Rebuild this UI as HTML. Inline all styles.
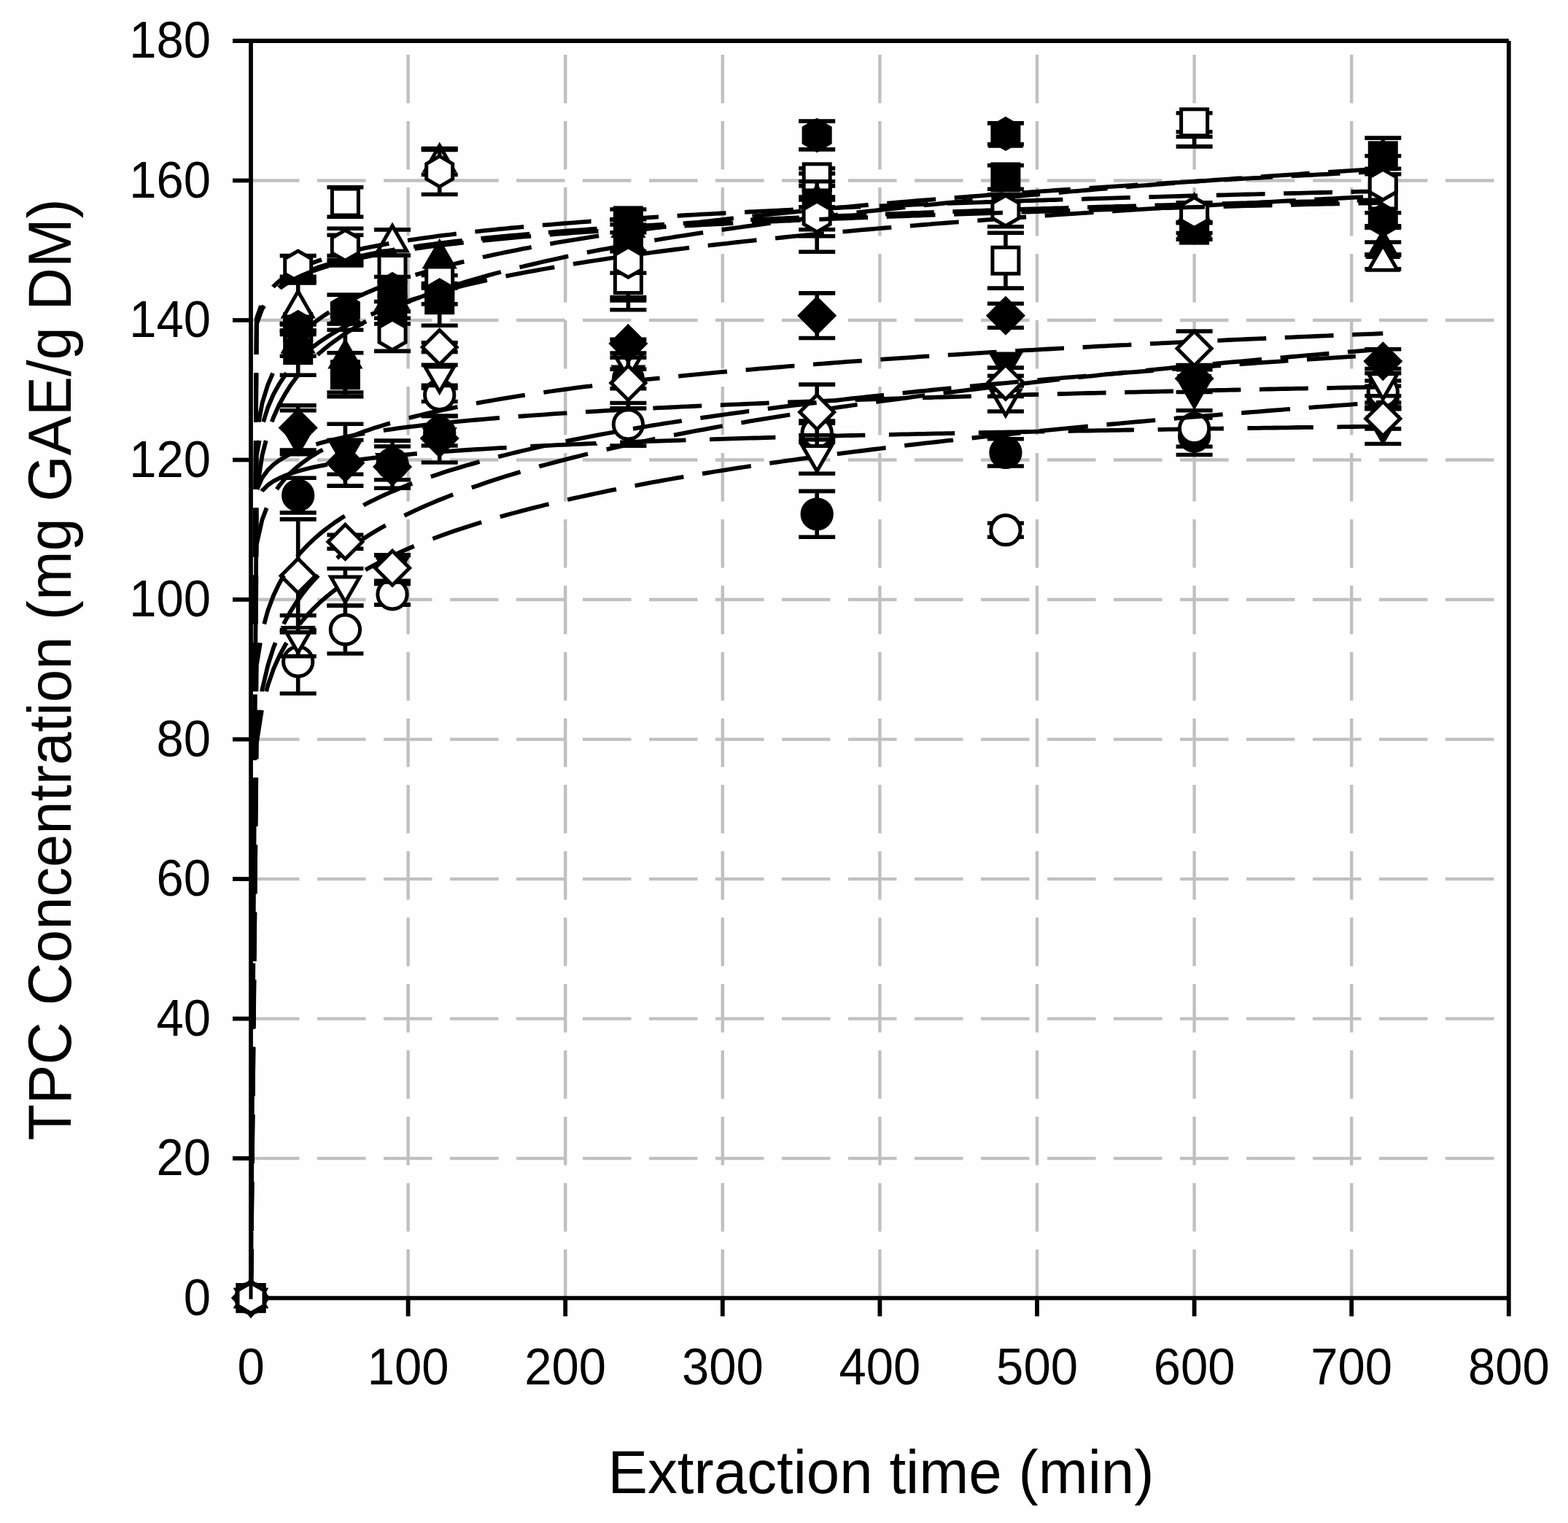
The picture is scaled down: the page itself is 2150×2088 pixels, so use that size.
<!DOCTYPE html>
<html lang="en"><head><meta charset="utf-8"><title>TPC Concentration vs Extraction time</title>
<style>html,body{margin:0;padding:0;background:#fefefe;}body{width:2150px;height:2088px;overflow:hidden;}svg{display:block;}</style>
</head><body>
<svg xmlns="http://www.w3.org/2000/svg" width="2150" height="2088" viewBox="0 0 2150 2088">
<rect width="2150" height="2088" fill="#fefefe"/>
<g stroke="#c0c0c0" stroke-width="4.4" fill="none" stroke-dasharray="66.5 24.5">
<line x1="344" y1="1588.1" x2="2068.8" y2="1588.1"/>
<line x1="344" y1="1396.6" x2="2068.8" y2="1396.6"/>
<line x1="344" y1="1205.1" x2="2068.8" y2="1205.1"/>
<line x1="344" y1="1013.6" x2="2068.8" y2="1013.6"/>
<line x1="344" y1="822" x2="2068.8" y2="822"/>
<line x1="344" y1="630.5" x2="2068.8" y2="630.5"/>
<line x1="344" y1="439" x2="2068.8" y2="439"/>
<line x1="344" y1="247.5" x2="2068.8" y2="247.5"/>
<line x1="559.6" y1="1779.6" x2="559.6" y2="56"/>
<line x1="775.2" y1="1779.6" x2="775.2" y2="56"/>
<line x1="990.8" y1="1779.6" x2="990.8" y2="56"/>
<line x1="1206.4" y1="1779.6" x2="1206.4" y2="56"/>
<line x1="1422" y1="1779.6" x2="1422" y2="56"/>
<line x1="1637.6" y1="1779.6" x2="1637.6" y2="56"/>
<line x1="1853.2" y1="1779.6" x2="1853.2" y2="56"/>
</g>
<g stroke="#000" stroke-width="5.8" stroke-linejoin="miter" stroke-miterlimit="10" fill="none">
<g stroke-width="5.0">
<g stroke-width="5.6"><path d="M408.7 655.3V702.9M383.7 655.3H433.7M383.7 702.9H433.7"/><path d="M602.7 570.4V611M577.7 570.4H627.7M577.7 611H627.7"/><path d="M861.4 506.1V532.7M836.4 506.1H886.4M836.4 532.7H886.4"/><path d="M1120.2 673.4V736.2M1095.2 673.4H1145.2M1095.2 736.2H1145.2"/><path d="M1378.9 601.8V639M1353.9 601.8H1403.9M1353.9 639H1403.9"/><path d="M1637.6 573V623.5M1612.6 573H1662.6M1612.6 623.5H1662.6"/><path d="M1896.3 529.2V560.8M1871.3 529.2H1921.3M1871.3 560.8H1921.3"/></g>
<circle cx="408.7" cy="679.1" r="20.15" fill="#000"/>
<circle cx="538" cy="636" r="20.15" fill="#000"/>
<circle cx="602.7" cy="593.4" r="20.15" fill="#000"/>
<circle cx="861.4" cy="519.4" r="20.15" fill="#000"/>
<circle cx="1120.2" cy="704.8" r="20.15" fill="#000"/>
<circle cx="1378.9" cy="620.4" r="20.15" fill="#000"/>
<circle cx="1637.6" cy="598" r="20.15" fill="#000"/>
<circle cx="1896.3" cy="545" r="20.15" fill="#000"/>
<g stroke-width="5.8"><path d="M344.0 1779.6L344.6 1689.3M344.9 1656.7L345.5 1566.4M345.7 1533.8L346.4 1443.5M346.6 1410.9L347.3 1320.6M347.5 1288.0L348.1 1197.7M348.4 1165.1L349.0 1074.8M349.2 1042.2L349.9 951.9M350.1 919.3L350.7 829.0M351.0 796.4L351.6 706.1M358.9 673.5L359.5 672.6L367.3 665.1L375.0 659.7L382.8 655.6L390.6 652.2L398.3 649.3L406.1 646.8L413.9 644.5L421.6 642.5L429.4 640.7L437.1 639.1L444.9 637.6L448.9 636.9M481.5 631.7L483.7 631.4L491.5 630.3L499.2 629.4L507.0 628.4L514.8 627.5L522.5 626.7L530.3 625.9L538.0 625.1L545.8 624.3L553.6 623.6L561.3 622.9L569.1 622.2L571.8 622.0M604.4 619.4L607.9 619.2L615.7 618.6L623.4 618.1L631.2 617.5L638.9 617.0L646.7 616.5L654.5 616.0L662.2 615.6L670.0 615.1L677.7 614.6L685.5 614.2L693.3 613.8L694.7 613.7M727.3 612.0L732.1 611.7L739.8 611.3L747.6 611.0L755.4 610.6L763.1 610.2L770.9 609.9L778.6 609.5L786.4 609.2L794.2 608.8L801.9 608.5L809.7 608.2L817.5 607.9L817.6 607.8M850.2 606.5L856.3 606.3L864.0 606.0L871.8 605.7L879.6 605.4L887.3 605.2L895.1 604.9L902.8 604.6L910.6 604.3L918.4 604.1L926.1 603.8L933.9 603.6L940.5 603.3M973.1 602.3L980.5 602.1L988.2 601.8L996.0 601.6L1003.7 601.4L1011.5 601.1L1019.3 600.9L1027.0 600.7L1034.8 600.5L1042.5 600.3L1050.3 600.0L1058.1 599.8L1063.4 599.7M1096.0 598.8L1096.9 598.8L1104.6 598.6L1112.4 598.4L1120.2 598.2L1127.9 598.0L1135.7 597.8L1143.4 597.6L1151.2 597.4L1159.0 597.2L1166.7 597.0L1174.5 596.9L1182.3 596.7L1186.3 596.6M1218.9 595.8L1221.1 595.8L1228.8 595.6L1236.6 595.4L1244.3 595.3L1252.1 595.1L1259.9 594.9L1267.6 594.8L1275.4 594.6L1283.2 594.4L1290.9 594.3L1298.7 594.1L1306.4 594.0L1309.2 593.9M1341.8 593.2L1345.2 593.2L1353.0 593.0L1360.8 592.9L1368.5 592.7L1376.3 592.6L1384.1 592.4L1391.8 592.3L1399.6 592.1L1407.3 592.0L1415.1 591.8L1422.9 591.7L1430.6 591.6L1432.1 591.5M1464.7 591.0L1469.4 590.9L1477.2 590.7L1485.0 590.6L1492.7 590.5L1500.5 590.3L1508.2 590.2L1516.0 590.1L1523.8 589.9L1531.5 589.8L1539.3 589.7L1547.0 589.5L1554.8 589.4L1555.0 589.4M1587.6 588.9L1593.6 588.8L1601.4 588.7L1609.1 588.6L1616.9 588.4L1624.7 588.3L1632.4 588.2L1640.2 588.1L1647.9 588.0L1655.7 587.8L1663.5 587.7L1671.2 587.6L1677.9 587.5M1710.5 587.0L1717.8 586.9L1725.6 586.8L1733.3 586.7L1741.1 586.6L1748.8 586.5L1756.6 586.4L1764.4 586.3L1772.1 586.2L1779.9 586.0L1787.7 585.9L1795.4 585.8L1800.8 585.8M1833.4 585.3L1834.2 585.3L1842.0 585.2L1849.8 585.1L1857.5 585.0L1865.3 584.9L1873.0 584.8L1880.8 584.7L1888.6 584.6L1896.3 584.5"/></g>
</g>
<g stroke-width="5.0">
<g stroke-width="5.6"><path d="M408.7 863.3V950.7M383.7 863.3H433.7M383.7 950.7H433.7"/><path d="M473.4 830.4V896M448.4 830.4H498.4M448.4 896H498.4"/><path d="M538 800.5V829.1M513 800.5H563M513 829.1H563"/><path d="M602.7 532.1V550.5M577.7 532.1H627.7M577.7 550.5H627.7"/><path d="M861.4 552.5V611.1M836.4 552.5H886.4M836.4 611.1H886.4"/><path d="M1120.2 580.3V606.3M1095.2 580.3H1145.2M1095.2 606.3H1145.2"/><path d="M1378.9 717.2V736.2M1353.9 717.2H1403.9M1353.9 736.2H1403.9"/><path d="M1637.6 562.7V612.3M1612.6 562.7H1662.6M1612.6 612.3H1662.6"/><path d="M1896.3 522V552M1871.3 522H1921.3M1871.3 552H1921.3"/><path d="M1095.2 577H1145.2"/></g>
<circle cx="408.7" cy="907" r="20.15" fill="#fefefe"/>
<circle cx="473.4" cy="863.2" r="20.15" fill="#fefefe"/>
<circle cx="538" cy="814.8" r="20.15" fill="#fefefe"/>
<circle cx="602.7" cy="541.3" r="20.15" fill="#fefefe"/>
<circle cx="861.4" cy="581.8" r="20.15" fill="#fefefe"/>
<circle cx="1120.2" cy="593.3" r="20.15" fill="#fefefe"/>
<circle cx="1378.9" cy="726.7" r="20.15" fill="#fefefe"/>
<circle cx="1637.6" cy="587.5" r="20.15" fill="#fefefe"/>
<circle cx="1896.3" cy="537" r="20.15" fill="#fefefe"/>
<g stroke-width="5.8"><path d="M344.0 1779.6L344.7 1712.8M344.9 1687.2L345.6 1620.4M345.9 1594.8L346.6 1528.0M346.8 1502.4L347.5 1435.6M347.8 1410.0L348.5 1343.2M348.7 1317.6L349.4 1250.8M349.7 1225.2L350.3 1158.4M350.6 1132.8L351.3 1066.0M351.5 1040.4L351.8 1019.0L358.9 973.6M365.1 948.0L367.3 939.6L375.0 917.4L382.8 899.8L390.6 885.2L393.0 881.2M410.8 855.6L413.9 851.8L421.6 842.9L429.4 834.8L437.1 827.3L444.9 820.4L452.7 814.0L460.4 807.9L468.2 802.2L475.4 797.3M501.0 781.3L507.0 777.9L514.8 773.7L522.5 769.6L530.3 765.7L538.0 762.0L545.8 758.4L553.6 754.9L561.3 751.5L567.8 748.8M593.4 738.6L600.1 736.1L607.9 733.3L615.7 730.5L623.4 727.8L631.2 725.2L638.9 722.7L646.7 720.2L654.5 717.8L660.2 716.0M685.8 708.5L693.3 706.4L701.0 704.3L708.8 702.2L716.6 700.1L724.3 698.1L732.1 696.1L739.8 694.2L747.6 692.3L752.6 691.1M778.2 685.1L778.6 685.0L786.4 683.2L794.2 681.5L801.9 679.8L809.7 678.1L817.5 676.5L825.2 674.8L833.0 673.2L840.7 671.7L845.0 670.8M870.6 665.8L871.8 665.6L879.6 664.1L887.3 662.6L895.1 661.2L902.8 659.8L910.6 658.4L918.4 657.0L926.1 655.7L933.9 654.3L937.4 653.7M963.0 649.4L964.9 649.1L972.7 647.8L980.5 646.5L988.2 645.3L996.0 644.1L1003.7 642.9L1011.5 641.7L1019.3 640.5L1027.0 639.3L1029.8 638.9M1055.4 635.1L1058.1 634.7L1065.8 633.6L1073.6 632.5L1081.4 631.4L1089.1 630.3L1096.9 629.2L1104.6 628.1L1112.4 627.1L1120.2 626.0L1122.2 625.8M1147.8 622.4L1151.2 621.9L1159.0 620.9L1166.7 619.9L1174.5 618.9L1182.3 618.0L1190.0 617.0L1197.8 616.0L1205.5 615.1L1213.3 614.1L1214.6 614.0M1240.2 610.9L1244.3 610.4L1252.1 609.5L1259.9 608.6L1267.6 607.7L1275.4 606.8L1283.2 606.0L1290.9 605.1L1298.7 604.2L1306.4 603.4L1307.0 603.3M1332.6 600.5L1337.5 600.0L1345.2 599.1L1353.0 598.3L1360.8 597.5L1368.5 596.7L1376.3 595.9L1384.1 595.1L1391.8 594.3L1399.4 593.5M1425.0 590.9L1430.6 590.4L1438.4 589.6L1446.1 588.8L1453.9 588.1L1461.7 587.3L1469.4 586.6L1477.2 585.9L1485.0 585.1L1491.8 584.5M1517.4 582.1L1523.8 581.5L1531.5 580.8L1539.3 580.1L1547.0 579.4L1554.8 578.7L1562.6 578.0L1570.3 577.3L1578.1 576.6L1584.2 576.1M1609.8 573.8L1616.9 573.2L1624.7 572.6L1632.4 571.9L1640.2 571.3L1647.9 570.6L1655.7 570.0L1663.5 569.3L1671.2 568.7L1676.6 568.2M1702.2 566.1L1702.3 566.1L1710.0 565.5L1717.8 564.9L1725.6 564.3L1733.3 563.6L1741.1 563.0L1748.8 562.4L1756.6 561.8L1764.4 561.2L1769.0 560.9M1794.6 558.9L1795.4 558.8L1803.2 558.2L1810.9 557.7L1818.7 557.1L1826.5 556.5L1834.2 555.9L1842.0 555.3L1849.8 554.8L1857.5 554.2L1861.4 553.9M1887.0 552.1L1888.6 551.9L1896.3 551.4"/></g>
</g>
<g stroke-width="5.0">
<g stroke-width="5.6"><path d="M408.7 562.8V622.6M383.7 562.8H433.7M383.7 622.6H433.7"/><path d="M473.4 581.2V650.2M448.4 581.2H498.4M448.4 650.2H498.4"/><path d="M538 612V657.8M513 612H563M513 657.8H563"/><path d="M1378.9 496.4V515.2M1353.9 515.2H1403.9"/><path d="M1637.6 506.8V534.5M1612.6 506.8H1662.6"/><path d="M1896.3 558.1V608.5M1871.3 558.1H1921.3M1871.3 608.5H1921.3"/></g>
<polygon points="408.7,621.1 428.5,586.8 388.9,586.8" fill="#000"/>
<polygon points="473.4,640.1 493.2,605.8 453.6,605.8" fill="#000"/>
<polygon points="538,657.8 557.8,623.5 518.2,623.5" fill="#000"/>
<polygon points="602.7,622.9 622.5,588.6 582.9,588.6" fill="#000"/>
<polygon points="861.4,537.3 881.2,503 841.6,503" fill="#000"/>
<polygon points="1378.9,519.3 1398.7,485 1359.1,485" fill="#000"/>
<polygon points="1637.6,557.4 1657.4,523.1 1617.8,523.1" fill="#000"/>
<polygon points="1896.3,606.2 1916.1,571.9 1876.5,571.9" fill="#000"/>
<g stroke-width="5.8"><path d="M344.0 1779.6L344.5 1712.8M344.6 1687.2L345.1 1620.4M345.3 1594.8L345.8 1528.0M345.9 1502.4L346.4 1435.6M346.6 1410.0L347.1 1343.2M347.2 1317.6L347.7 1250.8M347.9 1225.2L348.4 1158.4M348.5 1132.8L349.0 1066.0M349.2 1040.4L349.7 973.6M349.8 948.0L350.3 881.2M350.5 855.6L350.9 788.8M351.1 763.2L351.6 696.4M352.5 670.8L359.5 654.9L367.3 644.5L375.0 637.0L382.8 631.2L390.6 626.4L398.3 622.3L406.1 618.8L407.8 618.2M433.4 609.2L437.1 608.0L444.9 605.9L452.7 603.9L460.4 602.1L468.2 600.3L475.9 598.7L483.7 597.2L491.5 595.7L499.2 594.3L500.2 594.2M525.8 590.1L530.3 589.4L538.0 588.3L545.8 587.2L553.6 586.2L561.3 585.2L569.1 584.3L576.8 583.3L584.6 582.4L592.4 581.6L592.6 581.6M618.2 578.9L623.4 578.4L631.2 577.6L638.9 576.9L646.7 576.2L654.5 575.5L662.2 574.8L670.0 574.1L677.7 573.5L685.0 572.9M710.6 570.9L716.6 570.5L724.3 569.9L732.1 569.3L739.8 568.8L747.6 568.3L755.4 567.7L763.1 567.2L770.9 566.7L777.4 566.3M803.0 564.7L809.7 564.3L817.5 563.8L825.2 563.4L833.0 562.9L840.7 562.5L848.5 562.1L856.3 561.7L864.0 561.2L869.8 560.9M895.4 559.6L902.8 559.2L910.6 558.9L918.4 558.5L926.1 558.1L933.9 557.7L941.6 557.4L949.4 557.0L957.2 556.7L962.2 556.4M987.8 555.3L988.2 555.3L996.0 554.9L1003.7 554.6L1011.5 554.3L1019.3 554.0L1027.0 553.6L1034.8 553.3L1042.5 553.0L1050.3 552.7L1054.6 552.5M1080.2 551.6L1081.4 551.5L1089.1 551.2L1096.9 550.9L1104.6 550.6L1112.4 550.4L1120.2 550.1L1127.9 549.8L1135.7 549.5L1143.4 549.2L1147.0 549.1M1172.6 548.2L1174.5 548.2L1182.3 547.9L1190.0 547.7L1197.8 547.4L1205.5 547.1L1213.3 546.9L1221.1 546.6L1228.8 546.4L1236.6 546.2L1239.4 546.1M1265.0 545.3L1267.6 545.2L1275.4 545.0L1283.2 544.7L1290.9 544.5L1298.7 544.3L1306.4 544.0L1314.2 543.8L1322.0 543.6L1329.7 543.4L1331.8 543.3M1357.4 542.6L1360.8 542.5L1368.5 542.3L1376.3 542.1L1384.1 541.8L1391.8 541.6L1399.6 541.4L1407.3 541.2L1415.1 541.0L1422.9 540.8L1424.2 540.8M1449.8 540.1L1453.9 540.0L1461.7 539.8L1469.4 539.6L1477.2 539.4L1485.0 539.2L1492.7 539.0L1500.5 538.9L1508.2 538.7L1516.0 538.5L1516.6 538.5M1542.2 537.9L1547.0 537.7L1554.8 537.6L1562.6 537.4L1570.3 537.2L1578.1 537.0L1585.9 536.8L1593.6 536.7L1601.4 536.5L1609.0 536.3M1634.6 535.8L1640.2 535.6L1647.9 535.5L1655.7 535.3L1663.5 535.1L1671.2 535.0L1679.0 534.8L1686.8 534.6L1694.5 534.5L1701.4 534.3M1727.0 533.8L1733.3 533.7L1741.1 533.5L1748.8 533.3L1756.6 533.2L1764.4 533.0L1772.1 532.9L1779.9 532.7L1787.7 532.6L1793.8 532.4M1819.4 532.0L1826.5 531.8L1834.2 531.7L1842.0 531.5L1849.8 531.4L1857.5 531.2L1865.3 531.1L1873.0 530.9L1880.8 530.8L1886.2 530.7"/></g>
</g>
<g stroke-width="5.0">
<g stroke-width="5.6"><path d="M408.7 843.8V899.8M383.7 843.8H433.7M383.7 899.8H433.7"/><path d="M473.4 779.5V830.2M448.4 779.5H498.4M448.4 830.2H498.4"/><path d="M538 760.9V797.9M513 760.9H563M513 797.9H563"/><path d="M602.7 500.4V528.4M577.7 500.4H627.7M577.7 528.4H627.7"/><path d="M1120.2 596.7V649.3M1095.2 596.7H1145.2M1095.2 649.3H1145.2"/><path d="M1378.9 529V564M1353.9 529H1403.9M1353.9 564H1403.9"/><path d="M1896.3 505.6V542.8M1871.3 505.6H1921.3M1871.3 542.8H1921.3"/></g>
<polygon points="408.7,894.7 428.5,860.4 388.9,860.4" fill="#fefefe"/>
<polygon points="473.4,825.4 493.2,791.1 453.6,791.1" fill="#fefefe"/>
<polygon points="538,799.8 557.8,765.5 518.2,765.5" fill="#fefefe"/>
<polygon points="602.7,537.3 622.5,503 582.9,503" fill="#fefefe"/>
<polygon points="861.4,518.8 881.2,484.5 841.6,484.5" fill="#fefefe"/>
<polygon points="1120.2,645.9 1140,611.6 1100.4,611.6" fill="#fefefe"/>
<polygon points="1378.9,569.4 1398.7,535.1 1359.1,535.1" fill="#fefefe"/>
<polygon points="1637.6,549.9 1657.4,515.6 1617.8,515.6" fill="#fefefe"/>
<polygon points="1896.3,547.1 1916.1,512.8 1876.5,512.8" fill="#fefefe"/>
<g stroke-width="5.8"><path d="M344.0 1779.6L344.7 1712.8M344.9 1687.2L345.6 1620.4M345.8 1594.8L346.5 1528.0M346.8 1502.4L347.4 1435.6M347.7 1410.0L348.3 1343.2M348.6 1317.6L349.3 1250.8M349.5 1225.2L350.2 1158.4M350.4 1132.8L351.1 1066.0M351.4 1040.4L351.8 999.6L355.5 973.6M359.2 948.0L359.5 945.6L367.3 912.3L375.0 887.9L377.7 881.2M389.0 855.6L390.6 852.3L398.3 838.4L406.1 826.2L413.9 815.3L421.6 805.4L429.4 796.4L436.5 788.8M462.0 765.2L468.2 760.2L475.9 754.2L483.7 748.5L491.5 743.1L499.2 738.0L507.0 733.0L514.8 728.3L522.5 723.8L528.8 720.3M554.4 706.9L561.3 703.6L569.1 699.9L576.8 696.4L584.6 692.9L592.4 689.6L600.1 686.3L607.9 683.2L615.7 680.1L621.2 678.0M646.8 668.5L654.5 665.9L662.2 663.2L670.0 660.6L677.7 658.0L685.5 655.6L693.3 653.1L701.0 650.7L708.8 648.4L713.6 646.9M739.2 639.6L739.8 639.4L747.6 637.3L755.4 635.2L763.1 633.1L770.9 631.1L778.6 629.1L786.4 627.1L794.2 625.2L801.9 623.3L806.0 622.3M831.6 616.2L833.0 615.9L840.7 614.1L848.5 612.4L856.3 610.7L864.0 609.0L871.8 607.3L879.6 605.6L887.3 604.0L895.1 602.4L898.4 601.7M924.0 596.6L926.1 596.2L933.9 594.6L941.6 593.1L949.4 591.7L957.2 590.2L964.9 588.8L972.7 587.3L980.5 585.9L988.2 584.5L990.8 584.0M1016.4 579.6L1019.3 579.1L1027.0 577.7L1034.8 576.4L1042.5 575.1L1050.3 573.8L1058.1 572.6L1065.8 571.3L1073.6 570.1L1081.4 568.8L1083.2 568.5M1108.8 564.5L1112.4 564.0L1120.2 562.8L1127.9 561.6L1135.7 560.5L1143.4 559.3L1151.2 558.2L1159.0 557.1L1166.7 556.0L1174.5 554.8L1175.6 554.7M1201.2 551.1L1205.5 550.5L1213.3 549.4L1221.1 548.4L1228.8 547.3L1236.6 546.3L1244.3 545.3L1252.1 544.2L1259.9 543.2L1267.6 542.2L1268.0 542.2M1293.6 538.9L1298.7 538.3L1306.4 537.3L1314.2 536.3L1322.0 535.4L1329.7 534.4L1337.5 533.5L1345.2 532.5L1353.0 531.6L1360.4 530.7M1386.0 527.7L1391.8 527.0L1399.6 526.2L1407.3 525.3L1415.1 524.4L1422.9 523.5L1430.6 522.6L1438.4 521.8L1446.1 520.9L1452.8 520.2M1478.4 517.4L1485.0 516.7L1492.7 515.9L1500.5 515.1L1508.2 514.2L1516.0 513.4L1523.8 512.6L1531.5 511.8L1539.3 511.0L1545.2 510.4M1570.8 507.8L1578.1 507.1L1585.9 506.3L1593.6 505.6L1601.4 504.8L1609.1 504.0L1616.9 503.3L1624.7 502.5L1632.4 501.8L1637.6 501.3M1663.2 498.9L1663.5 498.8L1671.2 498.1L1679.0 497.4L1686.8 496.7L1694.5 496.0L1702.3 495.3L1710.0 494.6L1717.8 493.8L1725.6 493.1L1730.0 492.7M1755.6 490.5L1756.6 490.4L1764.4 489.7L1772.1 489.0L1779.9 488.3L1787.7 487.7L1795.4 487.0L1803.2 486.3L1810.9 485.7L1818.7 485.0L1822.4 484.7M1848.0 482.6L1849.8 482.4L1857.5 481.8L1865.3 481.1L1873.0 480.5L1880.8 479.9L1888.6 479.2L1896.3 478.6"/></g>
</g>
<g stroke-width="5.0">
<g stroke-width="5.6"><path d="M408.7 445V514.2M383.7 445H433.7M383.7 514.2H433.7"/><path d="M473.4 483.7V543.7M448.4 483.7H498.4M448.4 543.7H498.4"/><path d="M538 424V444M513 444H563"/><path d="M602.7 395V446.2M577.7 395H627.7M577.7 446.2H627.7"/><path d="M861.4 287V318.8M836.4 287H886.4M836.4 318.8H886.4"/><path d="M1120.2 270V274M1095.2 270H1145.2M1095.2 274H1145.2"/><path d="M1378.9 226.8V259.2M1353.9 226.8H1403.9M1353.9 259.2H1403.9"/><path d="M1637.6 315.1V328.1M1612.6 328.1H1662.6"/><path d="M1896.3 189.1V238.7M1871.3 189.1H1921.3M1871.3 238.7H1921.3"/><path d="M1095.2 237.9H1145.2"/><path d="M1871.3 213.8H1921.3"/><path d="M1871.3 231.2H1921.3"/></g>
<rect x="390.7" y="461.6" width="36" height="36" fill="#000"/>
<rect x="455.4" y="495.7" width="36" height="36" fill="#000"/>
<rect x="520" y="406" width="36" height="36" fill="#000"/>
<rect x="584.7" y="392.7" width="36" height="36" fill="#000"/>
<rect x="843.4" y="284.9" width="36" height="36" fill="#000"/>
<rect x="1102.2" y="254" width="36" height="36" fill="#000"/>
<rect x="1360.9" y="225" width="36" height="36" fill="#000"/>
<rect x="1619.6" y="297.1" width="36" height="36" fill="#000"/>
<rect x="1878.3" y="195.9" width="36" height="36" fill="#000"/>
<g stroke-width="5.8"><path d="M344.0 1779.6L344.4 1712.8M344.6 1687.2L345.0 1620.4M345.2 1594.8L345.6 1528.0M345.8 1502.4L346.3 1435.6M346.4 1410.0L346.9 1343.2M347.0 1317.6L347.5 1250.8M347.6 1225.2L348.1 1158.4M348.2 1132.8L348.7 1066.0M348.8 1040.4L349.3 973.6M349.4 948.0L349.9 881.2M350.1 855.6L350.5 788.8M350.7 763.2L351.1 696.4M351.3 670.8L351.7 604.0M354.8 578.4L359.5 552.7L367.3 527.5L374.1 511.6M388.8 486.0L390.6 483.4L398.3 473.3L406.1 464.6L413.9 456.8L421.6 449.8L429.4 443.5L437.1 437.6L444.9 432.2L451.5 428.0M477.1 413.5L483.7 410.1L491.5 406.4L499.2 402.9L507.0 399.5L514.8 396.3L522.5 393.2L530.3 390.3L538.0 387.4L543.9 385.4M569.5 376.9L576.8 374.7L584.6 372.4L592.4 370.1L600.1 368.0L607.9 365.8L615.7 363.8L623.4 361.8L631.2 359.9L636.3 358.6M661.9 352.6L662.2 352.5L670.0 350.8L677.7 349.1L685.5 347.5L693.3 345.9L701.0 344.3L708.8 342.8L716.6 341.2L724.3 339.8L728.7 338.9M754.3 334.3L755.4 334.1L763.1 332.7L770.9 331.4L778.6 330.1L786.4 328.8L794.2 327.6L801.9 326.3L809.7 325.1L817.5 323.9L821.1 323.3M846.7 319.5L848.5 319.3L856.3 318.1L864.0 317.0L871.8 316.0L879.6 314.9L887.3 313.8L895.1 312.8L902.8 311.8L910.6 310.8L913.5 310.4M939.1 307.2L941.6 306.8L949.4 305.9L957.2 304.9L964.9 304.0L972.7 303.1L980.5 302.2L988.2 301.3L996.0 300.4L1003.7 299.5L1005.9 299.3M1031.5 296.5L1034.8 296.1L1042.5 295.3L1050.3 294.5L1058.1 293.7L1065.8 292.9L1073.6 292.1L1081.4 291.3L1089.1 290.5L1096.9 289.7L1098.3 289.6M1123.9 287.1L1127.9 286.7L1135.7 286.0L1143.4 285.2L1151.2 284.5L1159.0 283.8L1166.7 283.1L1174.5 282.4L1182.3 281.7L1190.0 281.0L1190.7 280.9M1216.3 278.7L1221.1 278.3L1228.8 277.6L1236.6 277.0L1244.3 276.3L1252.1 275.7L1259.9 275.0L1267.6 274.4L1275.4 273.8L1283.1 273.2M1308.7 271.1L1314.2 270.7L1322.0 270.1L1329.7 269.5L1337.5 268.9L1345.2 268.3L1353.0 267.7L1360.8 267.2L1368.5 266.6L1375.5 266.1M1401.1 264.2L1407.3 263.8L1415.1 263.2L1422.9 262.7L1430.6 262.1L1438.4 261.6L1446.1 261.0L1453.9 260.5L1461.7 260.0L1467.9 259.6M1493.5 257.8L1500.5 257.4L1508.2 256.9L1516.0 256.4L1523.8 255.9L1531.5 255.4L1539.3 254.9L1547.0 254.4L1554.8 253.9L1560.3 253.5M1585.9 251.9L1593.6 251.5L1601.4 251.0L1609.1 250.5L1616.9 250.1L1624.7 249.6L1632.4 249.1L1640.2 248.7L1647.9 248.2L1652.7 247.9M1678.3 246.5L1679.0 246.4L1686.8 246.0L1694.5 245.5L1702.3 245.1L1710.0 244.6L1717.8 244.2L1725.6 243.8L1733.3 243.3L1741.1 242.9L1745.1 242.7M1770.7 241.3L1772.1 241.2L1779.9 240.8L1787.7 240.4L1795.4 240.0L1803.2 239.6L1810.9 239.2L1818.7 238.8L1826.5 238.3L1834.2 237.9L1837.5 237.8M1863.1 236.5L1865.3 236.4L1873.0 236.0L1880.8 235.6L1888.6 235.2L1896.3 234.8"/></g>
</g>
<g stroke-width="5.0">
<g stroke-width="5.6"><path d="M473.4 256.8V297.2M448.4 256.8H498.4M448.4 297.2H498.4"/><path d="M602.7 377.5V388.5M577.7 377.5H627.7M577.7 388.5H627.7"/><path d="M861.4 383.5V424.7M836.4 424.7H886.4"/><path d="M1120.2 230.9V254.9M1095.2 230.9H1145.2M1095.2 254.9H1145.2"/><path d="M1378.9 319.3V395.1M1353.9 319.3H1403.9M1353.9 395.1H1403.9"/><path d="M1637.6 155V200.9M1612.6 155H1662.6M1612.6 200.9H1662.6"/><path d="M836.4 407.5H886.4"/><path d="M836.4 412H886.4"/><path d="M1612.6 180.8H1662.6"/><path d="M1612.6 187.5H1662.6"/></g>
<rect x="390.7" y="430.5" width="36" height="36" fill="#fefefe"/>
<rect x="455.4" y="259" width="36" height="36" fill="#fefefe"/>
<rect x="520" y="350" width="36" height="36" fill="#fefefe"/>
<rect x="584.7" y="365" width="36" height="36" fill="#fefefe"/>
<rect x="843.4" y="365.5" width="36" height="36" fill="#fefefe"/>
<rect x="1102.2" y="224.9" width="36" height="36" fill="#fefefe"/>
<rect x="1360.9" y="339.2" width="36" height="36" fill="#fefefe"/>
<rect x="1619.6" y="149.8" width="36" height="36" fill="#fefefe"/>
<rect x="1878.3" y="250" width="36" height="36" fill="#fefefe"/>
<g stroke-width="5.8"><path d="M344.0 1779.6L344.5 1712.8M344.6 1687.2L345.1 1620.4M345.3 1594.8L345.8 1528.0M345.9 1502.4L346.4 1435.6M346.6 1410.0L347.1 1343.2M347.2 1317.6L347.7 1250.8M347.9 1225.2L348.4 1158.4M348.5 1132.8L349.0 1066.0M349.2 1040.4L349.7 973.6M349.8 948.0L350.3 881.2M350.5 855.6L351.0 788.8M351.1 763.2L351.6 696.4M352.3 670.8L359.5 624.2L364.7 604.0M372.8 578.4L375.0 572.2L382.8 554.9L390.6 540.6L398.3 528.4L406.1 517.8L411.1 511.6M435.3 486.5L437.1 484.8L444.9 478.2L452.7 472.0L460.4 466.3L468.2 460.9L475.9 455.8L483.7 451.0L491.5 446.4L499.2 442.0L502.1 440.5M527.7 427.6L530.3 426.4L538.0 422.9L545.8 419.5L553.6 416.3L561.3 413.1L569.1 410.1L576.8 407.1L584.6 404.2L592.4 401.5L594.5 400.7M620.1 392.1L623.4 391.1L631.2 388.7L638.9 386.3L646.7 384.0L654.5 381.8L662.2 379.6L670.0 377.4L677.7 375.3L685.5 373.3L686.9 372.9M712.5 366.4L716.6 365.5L724.3 363.6L732.1 361.8L739.8 360.0L747.6 358.2L755.4 356.5L763.1 354.8L770.9 353.2L778.6 351.5L779.3 351.4M804.9 346.2L809.7 345.2L817.5 343.7L825.2 342.2L833.0 340.8L840.7 339.3L848.5 337.9L856.3 336.5L864.0 335.1L871.7 333.8M897.3 329.4L902.8 328.5L910.6 327.2L918.4 326.0L926.1 324.7L933.9 323.5L941.6 322.3L949.4 321.1L957.2 319.9L964.1 318.9M989.7 315.1L996.0 314.2L1003.7 313.1L1011.5 312.0L1019.3 310.9L1027.0 309.9L1034.8 308.8L1042.5 307.8L1050.3 306.7L1056.5 305.9M1082.1 302.6L1089.1 301.7L1096.9 300.7L1104.6 299.8L1112.4 298.8L1120.2 297.9L1127.9 296.9L1135.7 296.0L1143.4 295.1L1148.9 294.4M1174.5 291.5L1182.3 290.6L1190.0 289.7L1197.8 288.9L1205.5 288.0L1213.3 287.2L1221.1 286.3L1228.8 285.5L1236.6 284.6L1241.3 284.1M1266.9 281.5L1267.6 281.4L1275.4 280.6L1283.2 279.8L1290.9 279.0L1298.7 278.2L1306.4 277.5L1314.2 276.7L1322.0 275.9L1329.7 275.2L1333.7 274.8M1359.3 272.3L1360.8 272.2L1368.5 271.5L1376.3 270.8L1384.1 270.0L1391.8 269.3L1399.6 268.6L1407.3 267.9L1415.1 267.2L1422.9 266.5L1426.1 266.2M1451.7 264.0L1453.9 263.8L1461.7 263.1L1469.4 262.4L1477.2 261.8L1485.0 261.1L1492.7 260.5L1500.5 259.8L1508.2 259.2L1516.0 258.5L1518.5 258.3M1544.1 256.2L1547.0 256.0L1554.8 255.4L1562.6 254.7L1570.3 254.1L1578.1 253.5L1585.9 252.9L1593.6 252.3L1601.4 251.7L1609.1 251.1L1610.9 251.0M1636.5 249.0L1640.2 248.7L1647.9 248.2L1655.7 247.6L1663.5 247.0L1671.2 246.4L1679.0 245.9L1686.8 245.3L1694.5 244.7L1702.3 244.2L1703.3 244.1M1728.9 242.3L1733.3 242.0L1741.1 241.4L1748.8 240.9L1756.6 240.4L1764.4 239.8L1772.1 239.3L1779.9 238.8L1787.7 238.2L1795.4 237.7L1795.7 237.7M1821.3 236.0L1826.5 235.6L1834.2 235.1L1842.0 234.6L1849.8 234.1L1857.5 233.6L1865.3 233.1L1873.0 232.6L1880.8 232.1L1888.1 231.6"/></g>
</g>
<g stroke-width="5.0">
<g stroke-width="5.6"><path d="M408.7 555.9V617.1M383.7 555.9H433.7M383.7 617.1H433.7"/><path d="M473.4 603.3V666.1M448.4 603.3H498.4M448.4 666.1H498.4"/><path d="M538 604.1V669.2M513 604.1H563M513 669.2H563"/><path d="M602.7 570.4V634M577.7 570.4H627.7M577.7 634H627.7"/><path d="M861.4 465.2V484M836.4 465.2H886.4M836.4 484H886.4"/><path d="M1120.2 401.9V463.5M1095.2 401.9H1145.2M1095.2 463.5H1145.2"/><path d="M1378.9 416.2V449.2M1353.9 416.2H1403.9M1353.9 449.2H1403.9"/><path d="M1637.6 500.5V537.5M1612.6 500.5H1662.6M1612.6 537.5H1662.6"/><path d="M1896.3 478.8V511.8M1871.3 478.8H1921.3M1871.3 511.8H1921.3"/></g>
<polygon points="408.7,563 432.2,586.5 408.7,610 385.2,586.5" fill="#000"/>
<polygon points="473.4,611.2 496.9,634.7 473.4,658.2 449.9,634.7" fill="#000"/>
<polygon points="538,616.5 561.5,640 538,663.5 514.5,640" fill="#000"/>
<polygon points="602.7,577.5 626.2,601 602.7,624.5 579.2,601" fill="#000"/>
<polygon points="861.4,447.4 884.9,470.9 861.4,494.4 837.9,470.9" fill="#000"/>
<polygon points="1120.2,409.2 1143.7,432.7 1120.2,456.2 1096.7,432.7" fill="#000"/>
<polygon points="1378.9,409.2 1402.4,432.7 1378.9,456.2 1355.4,432.7" fill="#000"/>
<polygon points="1637.6,495.5 1661.1,519 1637.6,542.5 1614.1,519" fill="#000"/>
<polygon points="1896.3,471.8 1919.8,495.3 1896.3,518.8 1872.8,495.3" fill="#000"/>
<g stroke-width="5.8"><path d="M344.0 1779.6L344.5 1712.8M344.7 1687.2L345.2 1620.4M345.4 1594.8L345.9 1528.0M346.1 1502.4L346.6 1435.6M346.8 1410.0L347.3 1343.2M347.5 1317.6L348.0 1250.8M348.2 1225.2L348.7 1158.4M348.9 1132.8L349.4 1066.0M349.6 1040.4L350.1 973.6M350.2 948.0L350.7 881.2M350.9 855.6L351.4 788.8M351.6 763.2L351.8 746.3L359.5 712.4L365.6 696.4M379.5 670.8L382.8 665.9L390.6 656.4L398.3 648.3L406.1 641.2L413.9 635.0L421.6 629.4L429.4 624.2L437.1 619.5L442.6 616.5M468.2 603.9L475.9 600.6L483.7 597.4L491.5 594.5L499.2 591.6L507.0 588.9L514.8 586.3L522.5 583.9L530.3 581.5L535.0 580.1M560.6 573.0L561.3 572.9L569.1 570.9L576.8 569.0L584.6 567.1L592.4 565.3L600.1 563.6L607.9 561.9L615.7 560.3L623.4 558.6L627.4 557.8M653.0 552.9L654.5 552.6L662.2 551.2L670.0 549.9L677.7 548.5L685.5 547.2L693.3 545.9L701.0 544.6L708.8 543.4L716.6 542.2L719.8 541.7M745.4 537.9L747.6 537.6L755.4 536.5L763.1 535.4L770.9 534.3L778.6 533.3L786.4 532.2L794.2 531.2L801.9 530.2L809.7 529.3L812.2 528.9M837.8 525.8L840.7 525.5L848.5 524.6L856.3 523.7L864.0 522.8L871.8 521.9L879.6 521.1L887.3 520.2L895.1 519.4L902.8 518.6L904.6 518.4M930.2 515.8L933.9 515.4L941.6 514.6L949.4 513.9L957.2 513.1L964.9 512.4L972.7 511.7L980.5 510.9L988.2 510.2L996.0 509.5L997.0 509.4M1022.6 507.1L1027.0 506.8L1034.8 506.1L1042.5 505.4L1050.3 504.8L1058.1 504.1L1065.8 503.5L1073.6 502.8L1081.4 502.2L1089.1 501.6L1089.4 501.6M1115.0 499.6L1120.2 499.2L1127.9 498.6L1135.7 498.0L1143.4 497.4L1151.2 496.8L1159.0 496.2L1166.7 495.7L1174.5 495.1L1181.8 494.6M1207.4 492.8L1213.3 492.4L1221.1 491.8L1228.8 491.3L1236.6 490.8L1244.3 490.3L1252.1 489.8L1259.9 489.2L1267.6 488.7L1274.2 488.3M1299.8 486.7L1306.4 486.3L1314.2 485.8L1322.0 485.3L1329.7 484.8L1337.5 484.3L1345.2 483.9L1353.0 483.4L1360.8 483.0L1366.6 482.6M1392.2 481.1L1399.6 480.7L1407.3 480.2L1415.1 479.8L1422.9 479.4L1430.6 478.9L1438.4 478.5L1446.1 478.1L1453.9 477.6L1459.0 477.4M1484.6 476.0L1485.0 476.0L1492.7 475.6L1500.5 475.2L1508.2 474.7L1516.0 474.3L1523.8 473.9L1531.5 473.5L1539.3 473.1L1547.0 472.8L1551.4 472.5M1577.0 471.3L1578.1 471.2L1585.9 470.8L1593.6 470.4L1601.4 470.1L1609.1 469.7L1616.9 469.3L1624.7 468.9L1632.4 468.6L1640.2 468.2L1643.8 468.0M1669.4 466.8L1671.2 466.8L1679.0 466.4L1686.8 466.0L1694.5 465.7L1702.3 465.3L1710.0 465.0L1717.8 464.7L1725.6 464.3L1733.3 464.0L1736.2 463.8M1761.8 462.7L1764.4 462.6L1772.1 462.3L1779.9 461.9L1787.7 461.6L1795.4 461.3L1803.2 461.0L1810.9 460.6L1818.7 460.3L1826.5 460.0L1828.6 459.9M1854.2 458.8L1857.5 458.7L1865.3 458.4L1873.0 458.1L1880.8 457.8L1888.6 457.5L1896.3 457.1"/></g>
</g>
<g stroke-width="5.0">
<g stroke-width="5.6"><path d="M408.7 711.9V866.9M383.7 711.9H433.7M383.7 866.9H433.7"/><path d="M473.4 733.3V752.3M448.4 733.3H498.4M448.4 752.3H498.4"/><path d="M538 761.3V796.3M513 761.3H563M513 796.3H563"/><path d="M602.7 469.7V482.5M577.7 469.7H627.7M577.7 482.5H627.7"/><path d="M861.4 490.1V559.9M836.4 490.1H886.4M836.4 559.9H886.4"/><path d="M1120.2 527.1V602.7M1095.2 527.1H1145.2M1095.2 602.7H1145.2"/><path d="M1378.9 504.1V543.5M1353.9 504.1H1403.9M1353.9 543.5H1403.9"/><path d="M1637.6 454.1V501.3M1612.6 454.1H1662.6M1612.6 501.3H1662.6"/><path d="M1896.3 560.3V587.9M1871.3 560.3H1921.3M1871.3 587.9H1921.3"/></g>
<polygon points="408.7,765.9 432.2,789.4 408.7,812.9 385.2,789.4" fill="#fefefe"/>
<polygon points="473.4,719.3 496.9,742.8 473.4,766.3 449.9,742.8" fill="#fefefe"/>
<polygon points="538,755.3 561.5,778.8 538,802.3 514.5,778.8" fill="#fefefe"/>
<polygon points="602.7,452.6 626.2,476.1 602.7,499.6 579.2,476.1" fill="#fefefe"/>
<polygon points="861.4,501.5 884.9,525 861.4,548.5 837.9,525" fill="#fefefe"/>
<polygon points="1120.2,541.4 1143.7,564.9 1120.2,588.4 1096.7,564.9" fill="#fefefe"/>
<polygon points="1378.9,500.3 1402.4,523.8 1378.9,547.3 1355.4,523.8" fill="#fefefe"/>
<polygon points="1637.6,454.2 1661.1,477.7 1637.6,501.2 1614.1,477.7" fill="#fefefe"/>
<polygon points="1896.3,550.6 1919.8,574.1 1896.3,597.6 1872.8,574.1" fill="#fefefe"/>
<g stroke-width="5.8"><path d="M344.0 1779.6L344.6 1712.8M344.8 1687.2L345.4 1620.4M345.7 1594.8L346.3 1528.0M346.5 1502.4L347.1 1435.6M347.3 1410.0L347.9 1343.2M348.1 1317.6L348.7 1250.8M349.0 1225.2L349.6 1158.4M349.8 1132.8L350.4 1066.0M350.6 1040.4L351.2 973.6M351.4 948.0L351.8 912.0L356.9 881.2M362.2 855.6L367.3 837.1L375.0 816.4L382.8 800.1L389.3 788.8M407.4 763.2L413.9 755.7L421.6 747.5L429.4 740.1L437.1 733.3L444.9 726.9L452.7 721.0L460.4 715.5L468.2 710.3L472.8 707.4M498.4 692.7L499.2 692.2L507.0 688.2L514.8 684.4L522.5 680.7L530.3 677.1L538.0 673.7L545.8 670.5L553.6 667.3L561.3 664.3L565.2 662.8M590.8 653.5L592.4 653.0L600.1 650.4L607.9 647.8L615.7 645.3L623.4 642.9L631.2 640.6L638.9 638.3L646.7 636.1L654.5 633.9L657.6 633.0M683.2 626.2L685.5 625.6L693.3 623.7L701.0 621.7L708.8 619.9L716.6 618.0L724.3 616.2L732.1 614.4L739.8 612.7L747.6 611.0L750.0 610.5M775.6 605.1L778.6 604.4L786.4 602.9L794.2 601.3L801.9 599.8L809.7 598.3L817.5 596.8L825.2 595.4L833.0 594.0L840.7 592.6L842.4 592.3M868.0 587.8L871.8 587.1L879.6 585.8L887.3 584.5L895.1 583.2L902.8 582.0L910.6 580.7L918.4 579.5L926.1 578.3L933.9 577.1L934.8 576.9M960.4 573.1L964.9 572.4L972.7 571.3L980.5 570.2L988.2 569.1L996.0 568.0L1003.7 566.9L1011.5 565.8L1019.3 564.8L1027.0 563.7L1027.2 563.7M1052.8 560.3L1058.1 559.6L1065.8 558.6L1073.6 557.7L1081.4 556.7L1089.1 555.7L1096.9 554.8L1104.6 553.8L1112.4 552.9L1119.6 552.0M1145.2 549.0L1151.2 548.3L1159.0 547.4L1166.7 546.5L1174.5 545.7L1182.3 544.8L1190.0 544.0L1197.8 543.1L1205.5 542.3L1212.0 541.6M1237.6 538.8L1244.3 538.1L1252.1 537.3L1259.9 536.5L1267.6 535.8L1275.4 535.0L1283.2 534.2L1290.9 533.4L1298.7 532.6L1304.4 532.1M1330.0 529.6L1337.5 528.9L1345.2 528.2L1353.0 527.4L1360.8 526.7L1368.5 526.0L1376.3 525.3L1384.1 524.6L1391.8 523.9L1396.8 523.4M1422.4 521.1L1422.9 521.1L1430.6 520.4L1438.4 519.7L1446.1 519.1L1453.9 518.4L1461.7 517.7L1469.4 517.1L1477.2 516.4L1485.0 515.8L1489.2 515.4M1514.8 513.3L1516.0 513.2L1523.8 512.6L1531.5 512.0L1539.3 511.3L1547.0 510.7L1554.8 510.1L1562.6 509.5L1570.3 508.9L1578.1 508.3L1581.6 508.0M1607.2 506.1L1609.1 505.9L1616.9 505.3L1624.7 504.7L1632.4 504.1L1640.2 503.6L1647.9 503.0L1655.7 502.4L1663.5 501.9L1671.2 501.3L1674.0 501.1M1699.6 499.3L1702.3 499.1L1710.0 498.5L1717.8 498.0L1725.6 497.4L1733.3 496.9L1741.1 496.3L1748.8 495.8L1756.6 495.3L1764.4 494.7L1766.4 494.6M1792.0 492.9L1795.4 492.6L1803.2 492.1L1810.9 491.6L1818.7 491.1L1826.5 490.6L1834.2 490.1L1842.0 489.6L1849.8 489.1L1857.5 488.6L1858.8 488.5M1884.4 486.9L1888.6 486.6L1896.3 486.1"/></g>
</g>
<g stroke-width="5.0">
<g stroke-width="5.6"><path d="M408.7 453.1V488.3M383.7 453.1H433.7M383.7 488.3H433.7"/><path d="M473.4 452.3V538M448.4 452.3H498.4M448.4 538H498.4"/><path d="M538 410V427M513 427H563"/><path d="M861.4 300.7V312M836.4 300.7H886.4"/><path d="M1896.3 332V350M1871.3 332H1921.3M1871.3 350H1921.3"/></g>
<polygon points="408.7,447.8 428.5,482.1 388.9,482.1" fill="#000"/>
<polygon points="473.4,468.6 493.2,502.9 453.6,502.9" fill="#000"/>
<polygon points="538,387.1 557.8,421.4 518.2,421.4" fill="#000"/>
<polygon points="602.7,331.8 622.5,366.1 582.9,366.1" fill="#000"/>
<polygon points="861.4,289.1 881.2,323.4 841.6,323.4" fill="#000"/>
<polygon points="1120.2,255.6 1140,289.9 1100.4,289.9" fill="#000"/>
<polygon points="1378.9,165.6 1398.7,199.9 1359.1,199.9" fill="#000"/>
<polygon points="1637.6,288.1 1657.4,322.4 1617.8,322.4" fill="#000"/>
<polygon points="1896.3,318.1 1916.1,352.4 1876.5,352.4" fill="#000"/>
<g stroke-width="5.8"><path d="M344.0 1779.6L344.4 1712.8M344.6 1687.2L345.1 1620.4M345.2 1594.8L345.7 1528.0M345.9 1502.4L346.3 1435.6M346.5 1410.0L346.9 1343.2M347.1 1317.6L347.6 1250.8M347.7 1225.2L348.2 1158.4M348.3 1132.8L348.8 1066.0M349.0 1040.4L349.4 973.6M349.6 948.0L350.0 881.2M350.2 855.6L350.7 788.8M350.8 763.2L351.3 696.4M351.5 670.8L351.8 624.7L355.6 604.0M361.1 578.4L367.3 558.5L375.0 540.6L382.8 526.5L390.6 514.8L393.1 511.6M416.3 486.3L421.6 481.6L429.4 475.3L437.1 469.6L444.9 464.3L452.7 459.3L460.4 454.7L468.2 450.3L475.9 446.2L483.1 442.7M508.7 431.2L514.8 428.7L522.5 425.7L530.3 422.7L538.0 419.9L545.8 417.2L553.6 414.6L561.3 412.1L569.1 409.6L575.5 407.7M601.1 400.4L607.9 398.6L615.7 396.5L623.4 394.5L631.2 392.6L638.9 390.7L646.7 388.9L654.5 387.1L662.2 385.4L667.9 384.1M693.5 378.7L701.0 377.2L708.8 375.7L716.6 374.2L724.3 372.7L732.1 371.3L739.8 369.9L747.6 368.5L755.4 367.1L760.3 366.3M785.9 362.0L786.4 361.9L794.2 360.6L801.9 359.4L809.7 358.2L817.5 357.0L825.2 355.8L833.0 354.7L840.7 353.5L848.5 352.4L852.7 351.8M878.3 348.3L879.6 348.1L887.3 347.1L895.1 346.0L902.8 345.0L910.6 344.0L918.4 343.0L926.1 342.0L933.9 341.1L941.6 340.1L945.1 339.7M970.7 336.6L972.7 336.4L980.5 335.5L988.2 334.6L996.0 333.8L1003.7 332.9L1011.5 332.0L1019.3 331.2L1027.0 330.3L1034.8 329.5L1037.5 329.2M1063.1 326.5L1065.8 326.3L1073.6 325.5L1081.4 324.7L1089.1 323.9L1096.9 323.2L1104.6 322.4L1112.4 321.7L1120.2 320.9L1127.9 320.2L1129.9 320.0M1155.5 317.6L1159.0 317.3L1166.7 316.6L1174.5 315.9L1182.3 315.2L1190.0 314.5L1197.8 313.8L1205.5 313.2L1213.3 312.5L1221.1 311.8L1222.3 311.7M1247.9 309.6L1252.1 309.3L1259.9 308.6L1267.6 308.0L1275.4 307.4L1283.2 306.7L1290.9 306.1L1298.7 305.5L1306.4 304.9L1314.2 304.3L1314.7 304.3M1340.3 302.3L1345.2 302.0L1353.0 301.4L1360.8 300.8L1368.5 300.2L1376.3 299.7L1384.1 299.1L1391.8 298.5L1399.6 298.0L1407.1 297.5M1432.7 295.7L1438.4 295.3L1446.1 294.7L1453.9 294.2L1461.7 293.7L1469.4 293.2L1477.2 292.7L1485.0 292.1L1492.7 291.6L1499.5 291.2M1525.1 289.5L1531.5 289.1L1539.3 288.6L1547.0 288.1L1554.8 287.7L1562.6 287.2L1570.3 286.7L1578.1 286.2L1585.9 285.7L1591.9 285.4M1617.5 283.8L1624.7 283.4L1632.4 282.9L1640.2 282.5L1647.9 282.0L1655.7 281.6L1663.5 281.1L1671.2 280.7L1679.0 280.2L1684.3 279.9M1709.9 278.5L1710.0 278.5L1717.8 278.1L1725.6 277.6L1733.3 277.2L1741.1 276.8L1748.8 276.4L1756.6 275.9L1764.4 275.5L1772.1 275.1L1776.7 274.9M1802.3 273.5L1803.2 273.5L1810.9 273.1L1818.7 272.7L1826.5 272.3L1834.2 271.9L1842.0 271.5L1849.8 271.1L1857.5 270.7L1865.3 270.3L1869.1 270.1M1894.7 268.8L1896.3 268.7"/></g>
</g>
<g stroke-width="5.0">
<g stroke-width="5.6"><path d="M408.7 386.5V458.5M383.7 386.5H433.7M383.7 458.5H433.7"/><path d="M538 314.9V350.1M513 314.9H563M513 350.1H563"/><path d="M602.7 205.5V239.5M577.7 205.5H627.7M577.7 239.5H627.7"/><path d="M1896.3 348.8V368.8M1871.3 348.8H1921.3M1871.3 368.8H1921.3"/><path d="M448.4 356.5H498.4"/><path d="M448.4 361H498.4"/><path d="M448.4 364H498.4"/><path d="M383.7 383H433.7"/><path d="M383.7 388H433.7"/></g>
<polygon points="408.7,399.6 428.5,433.9 388.9,433.9" fill="#fefefe"/>
<polygon points="473.4,409.5 493.2,443.8 453.6,443.8" fill="#fefefe"/>
<polygon points="538,309.6 557.8,343.9 518.2,343.9" fill="#fefefe"/>
<polygon points="602.7,199.6 622.5,233.9 582.9,233.9" fill="#fefefe"/>
<polygon points="861.4,307.1 881.2,341.4 841.6,341.4" fill="#fefefe"/>
<polygon points="1378.9,165.6 1398.7,199.9 1359.1,199.9" fill="#fefefe"/>
<polygon points="1637.6,268.1 1657.4,302.4 1617.8,302.4" fill="#fefefe"/>
<polygon points="1896.3,335.9 1916.1,370.2 1876.5,370.2" fill="#fefefe"/>
<g stroke-width="5.8"><path d="M344.0 1779.6L344.4 1712.8M344.5 1687.2L344.9 1620.4M345.1 1594.8L345.5 1528.0M345.6 1502.4L346.0 1435.6M346.1 1410.0L346.5 1343.2M346.7 1317.6L347.1 1250.8M347.2 1225.2L347.6 1158.4M347.7 1132.8L348.1 1066.0M348.3 1040.4L348.7 973.6M348.8 948.0L349.2 881.2M349.3 855.6L349.7 788.8M349.9 763.2L350.3 696.4M350.4 670.8L350.8 604.0M350.9 578.4L351.3 511.6M351.5 486.0L351.8 436.4L357.9 419.2M374.4 393.6L375.0 392.8L382.8 385.6L390.6 379.8L398.3 374.8L406.1 370.5L413.9 366.6L421.6 363.2L429.4 360.1L437.1 357.3L441.0 355.9M466.6 348.2L468.2 347.8L475.9 345.8L483.7 343.9L491.5 342.1L499.2 340.4L507.0 338.8L514.8 337.3L522.5 335.8L530.3 334.4L533.4 333.8M559.0 329.6L561.3 329.2L569.1 328.1L576.8 326.9L584.6 325.8L592.4 324.8L600.1 323.7L607.9 322.7L615.7 321.8L623.4 320.8L625.8 320.5M651.4 317.6L654.5 317.3L662.2 316.4L670.0 315.6L677.7 314.8L685.5 314.0L693.3 313.3L701.0 312.5L708.8 311.8L716.6 311.1L718.2 311.0M743.8 308.7L747.6 308.4L755.4 307.8L763.1 307.1L770.9 306.5L778.6 305.9L786.4 305.3L794.2 304.7L801.9 304.1L809.7 303.5L810.6 303.5M836.2 301.7L840.7 301.3L848.5 300.8L856.3 300.3L864.0 299.8L871.8 299.3L879.6 298.8L887.3 298.3L895.1 297.8L902.8 297.3L903.0 297.3M928.6 295.8L933.9 295.5L941.6 295.0L949.4 294.6L957.2 294.2L964.9 293.7L972.7 293.3L980.5 292.9L988.2 292.5L995.4 292.1M1021.0 290.8L1027.0 290.5L1034.8 290.1L1042.5 289.7L1050.3 289.3L1058.1 288.9L1065.8 288.6L1073.6 288.2L1081.4 287.8L1087.8 287.5M1113.4 286.4L1120.2 286.1L1127.9 285.7L1135.7 285.4L1143.4 285.1L1151.2 284.7L1159.0 284.4L1166.7 284.1L1174.5 283.7L1180.2 283.5M1205.8 282.5L1213.3 282.2L1221.1 281.9L1228.8 281.6L1236.6 281.3L1244.3 281.0L1252.1 280.7L1259.9 280.4L1267.6 280.1L1272.6 279.9M1298.2 279.0L1298.7 278.9L1306.4 278.7L1314.2 278.4L1322.0 278.1L1329.7 277.8L1337.5 277.6L1345.2 277.3L1353.0 277.0L1360.8 276.8L1365.0 276.6M1390.6 275.8L1391.8 275.7L1399.6 275.5L1407.3 275.2L1415.1 275.0L1422.9 274.7L1430.6 274.5L1438.4 274.2L1446.1 274.0L1453.9 273.7L1457.4 273.6M1483.0 272.8L1485.0 272.8L1492.7 272.5L1500.5 272.3L1508.2 272.1L1516.0 271.8L1523.8 271.6L1531.5 271.4L1539.3 271.1L1547.0 270.9L1549.8 270.8M1575.4 270.1L1578.1 270.0L1585.9 269.8L1593.6 269.6L1601.4 269.4L1609.1 269.2L1616.9 269.0L1624.7 268.7L1632.4 268.5L1640.2 268.3L1642.2 268.3M1667.8 267.6L1671.2 267.5L1679.0 267.3L1686.8 267.1L1694.5 266.9L1702.3 266.7L1710.0 266.5L1717.8 266.3L1725.6 266.1L1733.3 265.9L1734.6 265.9M1760.2 265.2L1764.4 265.1L1772.1 265.0L1779.9 264.8L1787.7 264.6L1795.4 264.4L1803.2 264.2L1810.9 264.0L1818.7 263.8L1826.5 263.6L1827.0 263.6M1852.6 263.0L1857.5 262.9L1865.3 262.7L1873.0 262.6L1880.8 262.4L1888.6 262.2L1896.3 262.0"/></g>
</g>
<g stroke-width="5.0">
<g stroke-width="5.6"><path d="M408.7 443.5V453.5M383.7 443.5H433.7M383.7 453.5H433.7"/><path d="M473.4 404.1V443.9M448.4 404.1H498.4M448.4 443.9H498.4"/><path d="M538 379.5V413.5M513 379.5H563M513 413.5H563"/><path d="M602.7 392.7V416.9M577.7 392.7H627.7M577.7 416.9H627.7"/><path d="M861.4 308V330M836.4 308H886.4"/><path d="M1120.2 166.1V204.9M1095.2 166.1H1145.2M1095.2 204.9H1145.2"/><path d="M1378.9 168.9V197.9M1353.9 168.9H1403.9M1353.9 197.9H1403.9"/><path d="M1637.6 304.5V319.5M1612.6 304.5H1662.6M1612.6 319.5H1662.6"/><path d="M1896.3 291.8V309.8M1871.3 291.8H1921.3M1871.3 309.8H1921.3"/><path d="M1871.3 312.3H1921.3"/></g>
<polygon points="408.7,427.7 426.7,438.1 426.7,458.9 408.7,469.3 390.7,458.9 390.7,438.1" fill="#000"/>
<polygon points="473.4,404.7 491.4,415.1 491.4,435.9 473.4,446.3 455.3,435.9 455.3,415.1" fill="#000"/>
<polygon points="538,375.7 556.1,386.1 556.1,406.9 538,417.3 520,406.9 520,386.1" fill="#000"/>
<polygon points="602.7,384 620.7,394.4 620.7,415.2 602.7,425.6 584.7,415.2 584.7,394.4" fill="#000"/>
<polygon points="861.4,309.2 879.5,319.6 879.5,340.4 861.4,350.8 843.4,340.4 843.4,319.6" fill="#000"/>
<polygon points="1120.2,164.7 1138.2,175.1 1138.2,195.9 1120.2,206.3 1102.1,195.9 1102.1,175.1" fill="#000"/>
<polygon points="1378.9,162.6 1396.9,173 1396.9,193.8 1378.9,204.2 1360.9,193.8 1360.9,173" fill="#000"/>
<polygon points="1637.6,291.2 1655.6,301.6 1655.6,322.4 1637.6,332.8 1619.6,322.4 1619.6,301.6" fill="#000"/>
<polygon points="1896.3,280.5 1914.3,290.9 1914.3,311.7 1896.3,322.1 1878.3,311.7 1878.3,290.9" fill="#000"/>
<g stroke-width="5.8"><path d="M344.0 1779.6L344.4 1712.8M344.5 1687.2L344.9 1620.4M345.1 1594.8L345.5 1528.0M345.6 1502.4L346.0 1435.6M346.1 1410.0L346.5 1343.2M346.7 1317.6L347.1 1250.8M347.2 1225.2L347.6 1158.4M347.8 1132.8L348.1 1066.0M348.3 1040.4L348.7 973.6M348.8 948.0L349.2 881.2M349.4 855.6L349.8 788.8M349.9 763.2L350.3 696.4M350.4 670.8L350.8 604.0M351.0 578.4L351.4 511.6M351.5 486.0L351.8 443.2L359.5 422.2L361.4 419.2M382.3 394.4L382.8 393.9L390.6 388.2L398.3 383.4L406.1 379.2L413.9 375.5L421.6 372.1L429.4 369.1L437.1 366.3L444.9 363.8L449.1 362.5M474.7 355.5L475.9 355.2L483.7 353.4L491.5 351.7L499.2 350.0L507.0 348.4L514.8 346.9L522.5 345.5L530.3 344.1L538.0 342.8L541.5 342.2M567.1 338.3L569.1 338.0L576.8 336.9L584.6 335.8L592.4 334.8L600.1 333.8L607.9 332.8L615.7 331.9L623.4 331.0L631.2 330.1L633.9 329.8M659.5 327.0L662.2 326.7L670.0 325.9L677.7 325.2L685.5 324.4L693.3 323.7L701.0 323.0L708.8 322.3L716.6 321.6L724.3 320.9L726.3 320.7M751.9 318.6L755.4 318.3L763.1 317.7L770.9 317.1L778.6 316.5L786.4 315.9L794.2 315.3L801.9 314.8L809.7 314.2L817.5 313.7L818.7 313.6M844.3 311.9L848.5 311.6L856.3 311.1L864.0 310.6L871.8 310.1L879.6 309.6L887.3 309.1L895.1 308.7L902.8 308.2L910.6 307.7L911.1 307.7M936.7 306.3L941.6 306.0L949.4 305.5L957.2 305.1L964.9 304.7L972.7 304.3L980.5 303.9L988.2 303.5L996.0 303.1L1003.5 302.7M1029.1 301.4L1034.8 301.2L1042.5 300.8L1050.3 300.4L1058.1 300.1L1065.8 299.7L1073.6 299.3L1081.4 299.0L1089.1 298.6L1095.9 298.3M1121.5 297.2L1127.9 297.0L1135.7 296.6L1143.4 296.3L1151.2 296.0L1159.0 295.7L1166.7 295.3L1174.5 295.0L1182.3 294.7L1188.3 294.5M1213.9 293.5L1221.1 293.2L1228.8 292.9L1236.6 292.6L1244.3 292.3L1252.1 292.0L1259.9 291.8L1267.6 291.5L1275.4 291.2L1280.7 291.0M1306.3 290.1L1306.4 290.1L1314.2 289.8L1322.0 289.6L1329.7 289.3L1337.5 289.0L1345.2 288.8L1353.0 288.5L1360.8 288.3L1368.5 288.0L1373.1 287.8M1398.7 287.0L1399.6 287.0L1407.3 286.7L1415.1 286.5L1422.9 286.3L1430.6 286.0L1438.4 285.8L1446.1 285.5L1453.9 285.3L1461.7 285.1L1465.5 285.0M1491.1 284.2L1492.7 284.2L1500.5 283.9L1508.2 283.7L1516.0 283.5L1523.8 283.3L1531.5 283.0L1539.3 282.8L1547.0 282.6L1554.8 282.4L1557.9 282.3M1583.5 281.6L1585.9 281.5L1593.6 281.3L1601.4 281.1L1609.1 280.9L1616.9 280.7L1624.7 280.5L1632.4 280.3L1640.2 280.1L1647.9 279.9L1650.3 279.8M1675.9 279.2L1679.0 279.1L1686.8 278.9L1694.5 278.7L1702.3 278.5L1710.0 278.3L1717.8 278.1L1725.6 277.9L1733.3 277.7L1741.1 277.6L1742.7 277.5M1768.3 276.9L1772.1 276.8L1779.9 276.6L1787.7 276.4L1795.4 276.3L1803.2 276.1L1810.9 275.9L1818.7 275.7L1826.5 275.5L1834.2 275.4L1835.1 275.3M1860.7 274.8L1865.3 274.7L1873.0 274.5L1880.8 274.3L1888.6 274.2L1896.3 274.0"/></g>
</g>
<g stroke-width="5.0">
<g stroke-width="5.6"><path d="M408.7 350.6V379.2M383.7 350.6H433.7M383.7 379.2H433.7"/><path d="M473.4 313.3V350.6M448.4 313.3H498.4M448.4 350.6H498.4"/><path d="M538 436.2V481.4M513 436.2H563M513 481.4H563"/><path d="M602.7 203.5V266.5M577.7 203.5H627.7M577.7 266.5H627.7"/><path d="M861.4 344.6V374.2M836.4 344.6H886.4M836.4 374.2H886.4"/><path d="M1120.2 248.8V345.2M1095.2 248.8H1145.2M1095.2 345.2H1145.2"/><path d="M1378.9 266.8V310.8M1353.9 266.8H1403.9M1353.9 310.8H1403.9"/><path d="M1637.6 277.7V305.7M1612.6 277.7H1662.6M1612.6 305.7H1662.6"/><path d="M448.4 322.2H498.4"/><path d="M1095.2 283.9H1145.2"/><path d="M1095.2 314.8H1145.2"/><path d="M1095.2 323.8H1145.2"/></g>
<polygon points="408.7,344.1 426.7,354.5 426.7,375.3 408.7,385.7 390.7,375.3 390.7,354.5" fill="#fefefe"/>
<polygon points="473.4,315.6 491.4,326 491.4,346.8 473.4,357.2 455.3,346.8 455.3,326" fill="#fefefe"/>
<polygon points="538,438 556.1,448.4 556.1,469.2 538,479.6 520,469.2 520,448.4" fill="#fefefe"/>
<polygon points="602.7,214.2 620.7,224.6 620.7,245.4 602.7,255.8 584.7,245.4 584.7,224.6" fill="#fefefe"/>
<polygon points="861.4,338.6 879.5,349 879.5,369.8 861.4,380.2 843.4,369.8 843.4,349" fill="#fefefe"/>
<polygon points="1120.2,276.2 1138.2,286.6 1138.2,307.4 1120.2,317.8 1102.1,307.4 1102.1,286.6" fill="#fefefe"/>
<polygon points="1378.9,268 1396.9,278.4 1396.9,299.2 1378.9,309.6 1360.9,299.2 1360.9,278.4" fill="#fefefe"/>
<polygon points="1637.6,270.9 1655.6,281.3 1655.6,302.1 1637.6,312.5 1619.6,302.1 1619.6,281.3" fill="#fefefe"/>
<polygon points="1896.3,232.3 1914.3,242.7 1914.3,263.5 1896.3,273.9 1878.3,263.5 1878.3,242.7" fill="#fefefe"/>
<g stroke-width="5.8"><path d="M344.0 1779.6L344.4 1712.8M344.5 1687.2L344.9 1620.4M345.1 1594.8L345.5 1528.0M345.6 1502.4L346.0 1435.6M346.1 1410.0L346.5 1343.2M346.7 1317.6L347.1 1250.8M347.2 1225.2L347.6 1158.4M347.8 1132.8L348.1 1066.0M348.3 1040.4L348.7 973.6M348.8 948.0L349.2 881.2M349.4 855.6L349.8 788.8M349.9 763.2L350.3 696.4M350.4 670.8L350.8 604.0M351.0 578.4L351.4 511.6M351.5 486.0L351.8 444.3L359.5 423.6L362.3 419.2M384.1 394.9L390.6 390.2L398.3 385.5L406.1 381.3L413.9 377.7L421.6 374.4L429.4 371.4L437.1 368.7L444.9 366.2L450.9 364.4M476.5 357.7L483.7 356.0L491.5 354.3L499.2 352.7L507.0 351.1L514.8 349.7L522.5 348.2L530.3 346.9L538.0 345.6L543.3 344.8M568.9 340.9L569.1 340.9L576.8 339.8L584.6 338.7L592.4 337.7L600.1 336.8L607.9 335.8L615.7 334.9L623.4 334.0L631.2 333.1L635.7 332.6M661.3 329.9L662.2 329.8L670.0 329.0L677.7 328.3L685.5 327.5L693.3 326.8L701.0 326.1L708.8 325.4L716.6 324.7L724.3 324.1L728.1 323.7M753.7 321.7L755.4 321.5L763.1 320.9L770.9 320.3L778.6 319.8L786.4 319.2L794.2 318.6L801.9 318.1L809.7 317.5L817.5 317.0L820.5 316.8M846.1 315.1L848.5 314.9L856.3 314.4L864.0 313.9L871.8 313.5L879.6 313.0L887.3 312.5L895.1 312.1L902.8 311.6L910.6 311.2L912.9 311.0M938.5 309.6L941.6 309.4L949.4 309.0L957.2 308.6L964.9 308.2L972.7 307.8L980.5 307.4L988.2 307.0L996.0 306.6L1003.7 306.2L1005.3 306.1M1030.9 304.9L1034.8 304.7L1042.5 304.3L1050.3 304.0L1058.1 303.6L1065.8 303.3L1073.6 302.9L1081.4 302.6L1089.1 302.2L1096.9 301.9L1097.7 301.8M1123.3 300.7L1127.9 300.6L1135.7 300.2L1143.4 299.9L1151.2 299.6L1159.0 299.3L1166.7 299.0L1174.5 298.7L1182.3 298.4L1190.0 298.1L1190.1 298.1M1215.7 297.1L1221.1 296.9L1228.8 296.6L1236.6 296.3L1244.3 296.0L1252.1 295.7L1259.9 295.5L1267.6 295.2L1275.4 294.9L1282.5 294.6M1308.1 293.8L1314.2 293.6L1322.0 293.3L1329.7 293.0L1337.5 292.8L1345.2 292.5L1353.0 292.3L1360.8 292.0L1368.5 291.8L1374.9 291.6M1400.5 290.7L1407.3 290.5L1415.1 290.3L1422.9 290.1L1430.6 289.8L1438.4 289.6L1446.1 289.4L1453.9 289.1L1461.7 288.9L1467.3 288.7M1492.9 288.0L1500.5 287.8L1508.2 287.5L1516.0 287.3L1523.8 287.1L1531.5 286.9L1539.3 286.7L1547.0 286.5L1554.8 286.2L1559.7 286.1M1585.3 285.4L1585.9 285.4L1593.6 285.2L1601.4 285.0L1609.1 284.8L1616.9 284.6L1624.7 284.4L1632.4 284.2L1640.2 284.0L1647.9 283.8L1652.1 283.7M1677.7 283.0L1679.0 283.0L1686.8 282.8L1694.5 282.6L1702.3 282.4L1710.0 282.2L1717.8 282.1L1725.6 281.9L1733.3 281.7L1741.1 281.5L1744.5 281.4M1770.1 280.8L1772.1 280.8L1779.9 280.6L1787.7 280.4L1795.4 280.2L1803.2 280.1L1810.9 279.9L1818.7 279.7L1826.5 279.5L1834.2 279.4L1836.9 279.3M1862.5 278.7L1865.3 278.7L1873.0 278.5L1880.8 278.3L1888.6 278.2L1896.3 278.0"/></g>
</g>
</g>
<g stroke="#000" stroke-width="5.8" fill="none" stroke-linecap="butt">
<path d="M319 56 H2068.8"/>
<path d="M2068.8 56 V1804.6"/>
<path d="M344 53.1 V1804.6"/>
<path d="M319 1779.6 H2068.8"/>
<path d="M319 1588.1 H344"/>
<path d="M319 1396.6 H344"/>
<path d="M319 1205.1 H344"/>
<path d="M319 1013.6 H344"/>
<path d="M319 822 H344"/>
<path d="M319 630.5 H344"/>
<path d="M319 439 H344"/>
<path d="M319 247.5 H344"/>
<path d="M559.6 1779.6 V1804.6"/>
<path d="M775.2 1779.6 V1804.6"/>
<path d="M990.8 1779.6 V1804.6"/>
<path d="M1206.4 1779.6 V1804.6"/>
<path d="M1422 1779.6 V1804.6"/>
<path d="M1637.6 1779.6 V1804.6"/>
<path d="M1853.2 1779.6 V1804.6"/>
</g>
<g stroke="#000" stroke-width="5.0" stroke-linejoin="miter" fill="none">
<circle cx="344" cy="1779.6" r="20.15" fill="#000"/>
<circle cx="344" cy="1779.6" r="20.15" fill="#fefefe"/>
<polygon points="344,1802.5 363.8,1768.2 324.2,1768.2" fill="#000"/>
<polygon points="344,1802.5 363.8,1768.2 324.2,1768.2" fill="#fefefe"/>
<rect x="326" y="1761.6" width="36" height="36" fill="#000"/>
<rect x="326" y="1761.6" width="36" height="36" fill="#fefefe"/>
<polygon points="344,1756.1 367.5,1779.6 344,1803.1 320.5,1779.6" fill="#000"/>
<polygon points="344,1756.1 367.5,1779.6 344,1803.1 320.5,1779.6" fill="#fefefe"/>
<polygon points="344,1756.7 363.8,1791 324.2,1791" fill="#000"/>
<polygon points="344,1756.7 363.8,1791 324.2,1791" fill="#fefefe"/>
<polygon points="344,1758.8 362,1769.2 362,1790 344,1800.4 326,1790 326,1769.2" fill="#000"/>
<polygon points="344,1758.8 362,1769.2 362,1790 344,1800.4 326,1790 326,1769.2" fill="#fefefe"/>
<path d="M344 1739.6 V1781.1"/>
</g>
<g font-family="'Liberation Sans', Arial, sans-serif" fill="#000">
<g font-size="67" text-anchor="end">
<text transform="translate(289 1802.8) scale(1 1.05)">0</text>
<text transform="translate(289 1611.3) scale(1 1.05)">20</text>
<text transform="translate(289 1419.8) scale(1 1.05)">40</text>
<text transform="translate(289 1228.3) scale(1 1.05)">60</text>
<text transform="translate(289 1036.8) scale(1 1.05)">80</text>
<text transform="translate(289 845.2) scale(1 1.05)">100</text>
<text transform="translate(289 653.7) scale(1 1.05)">120</text>
<text transform="translate(289 462.2) scale(1 1.05)">140</text>
<text transform="translate(289 270.7) scale(1 1.05)">160</text>
<text transform="translate(289 79.2) scale(1 1.05)">180</text>
</g>
<g font-size="67" text-anchor="middle">
<text transform="translate(344 1898) scale(1 1.05)">0</text>
<text transform="translate(559.6 1898) scale(1 1.05)">100</text>
<text transform="translate(775.2 1898) scale(1 1.05)">200</text>
<text transform="translate(990.8 1898) scale(1 1.05)">300</text>
<text transform="translate(1206.4 1898) scale(1 1.05)">400</text>
<text transform="translate(1422 1898) scale(1 1.05)">500</text>
<text transform="translate(1637.6 1898) scale(1 1.05)">600</text>
<text transform="translate(1853.2 1898) scale(1 1.05)">700</text>
<text transform="translate(2068.8 1898) scale(1 1.05)">800</text>
</g>
<text transform="translate(1208 2046.9) scale(1 1.027)" font-size="81.7" text-anchor="middle">Extraction time (min)</text>
<text transform="translate(97.2 918) rotate(-90) scale(1 1.03)" font-size="81.25" text-anchor="middle">TPC Concentration (mg GAE/g DM)</text>
</g>
</svg></body></html>
